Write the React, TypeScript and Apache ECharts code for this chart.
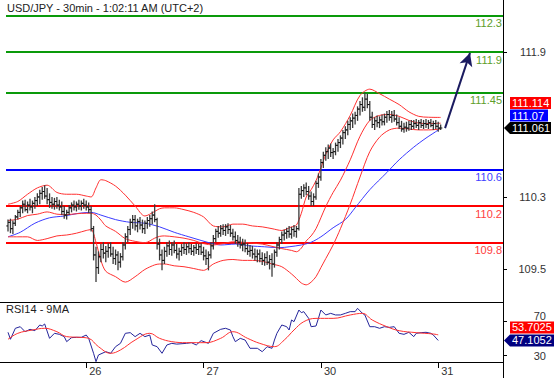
import React, { useEffect, useRef } from "react";
import * as echarts from "echarts";

const chartTitle = "USD/JPY - 30min - 1:02:11 AM (UTC+2)";
const rsiTitle = "RSI14 - 9MA";
const dayLabels = ["26", "27", "30", "31"];
const dayStartIndex = [32, 80, 128, 176];
const priceTicks = [109.5, 110.3, 111.9];
const rsiTicks = [30, 70];
const resistanceLevels = [112.3, 111.9, 111.45];
const pivotLevels = [110.6];
const supportLevels = [110.2, 109.8];

// [open, high, low, close] per 30-min bar
const ohlc: number[][] = [
  [109.98, 110.05, 109.92, 110.02], [110.02, 110.06, 109.9, 109.95], [109.95, 110.04, 109.89, 110.01], [110.01, 110.1, 109.98, 110.08],
  [110.08, 110.16, 110.05, 110.13], [110.13, 110.2, 110.08, 110.18], [110.18, 110.26, 110.12, 110.22], [110.22, 110.27, 110.14, 110.16],
  [110.16, 110.25, 110.12, 110.21], [110.21, 110.28, 110.15, 110.19], [110.19, 110.26, 110.12, 110.23], [110.23, 110.3, 110.17, 110.26],
  [110.26, 110.34, 110.2, 110.3], [110.3, 110.38, 110.22, 110.34], [110.34, 110.41, 110.27, 110.36], [110.36, 110.43, 110.28, 110.31],
  [110.31, 110.4, 110.22, 110.27], [110.27, 110.34, 110.18, 110.24], [110.24, 110.3, 110.17, 110.22], [110.22, 110.29, 110.16, 110.25],
  [110.25, 110.3, 110.17, 110.21], [110.21, 110.27, 110.15, 110.19], [110.19, 110.25, 110.1, 110.14], [110.14, 110.2, 110.06, 110.1],
  [110.1, 110.16, 110.05, 110.13], [110.13, 110.21, 110.1, 110.18], [110.18, 110.24, 110.13, 110.21], [110.21, 110.26, 110.15, 110.19],
  [110.19, 110.25, 110.14, 110.22], [110.22, 110.27, 110.16, 110.2], [110.2, 110.26, 110.15, 110.23], [110.23, 110.28, 110.17, 110.21],
  [110.21, 110.26, 110.15, 110.19], [110.19, 110.24, 110.12, 110.16], [110.16, 110.2, 109.92, 109.95], [109.95, 109.98, 109.6, 109.66],
  [109.66, 109.75, 109.36, 109.52], [109.52, 109.7, 109.45, 109.64], [109.64, 109.78, 109.58, 109.72], [109.72, 109.8, 109.62, 109.68],
  [109.68, 109.76, 109.58, 109.7], [109.7, 109.79, 109.63, 109.74], [109.74, 109.8, 109.64, 109.67], [109.67, 109.75, 109.56, 109.62],
  [109.62, 109.72, 109.55, 109.66], [109.66, 109.7, 109.49, 109.58], [109.58, 109.68, 109.52, 109.64], [109.64, 109.8, 109.6, 109.77],
  [109.77, 109.9, 109.72, 109.86], [109.86, 109.98, 109.8, 109.94], [109.94, 110.06, 109.88, 110.02], [110.02, 110.1, 109.95, 110.05],
  [110.05, 110.1, 109.93, 109.98], [109.98, 110.06, 109.91, 110.03], [110.03, 110.08, 109.94, 109.99], [109.99, 110.05, 109.9, 109.95],
  [109.95, 110.04, 109.89, 110.01], [110.01, 110.08, 109.95, 110.04], [110.04, 110.1, 109.97, 110.06], [110.06, 110.14, 110.0, 110.1],
  [110.1, 110.22, 110.02, 110.05], [110.05, 110.07, 109.72, 109.78], [109.78, 109.84, 109.6, 109.66], [109.66, 109.72, 109.49, 109.6],
  [109.6, 109.75, 109.56, 109.7], [109.7, 109.8, 109.64, 109.76], [109.76, 109.82, 109.66, 109.72], [109.72, 109.8, 109.65, 109.77],
  [109.77, 109.82, 109.68, 109.71], [109.71, 109.78, 109.62, 109.67], [109.67, 109.74, 109.6, 109.7], [109.7, 109.78, 109.65, 109.74],
  [109.74, 109.8, 109.67, 109.72], [109.72, 109.79, 109.66, 109.75], [109.75, 109.8, 109.68, 109.73], [109.73, 109.78, 109.66, 109.7],
  [109.7, 109.77, 109.65, 109.74], [109.74, 109.79, 109.67, 109.72], [109.72, 109.78, 109.66, 109.75], [109.75, 109.79, 109.66, 109.69],
  [109.69, 109.75, 109.6, 109.65], [109.65, 109.72, 109.55, 109.62], [109.62, 109.7, 109.49, 109.66], [109.66, 109.8, 109.62, 109.76],
  [109.76, 109.88, 109.72, 109.84], [109.84, 109.95, 109.8, 109.92], [109.92, 109.98, 109.85, 109.9], [109.9, 109.99, 109.86, 109.95],
  [109.95, 110.0, 109.88, 109.93], [109.93, 110.0, 109.87, 109.97], [109.97, 110.01, 109.89, 109.94], [109.94, 109.99, 109.86, 109.9],
  [109.9, 109.95, 109.82, 109.86], [109.86, 109.92, 109.78, 109.82], [109.82, 109.88, 109.75, 109.8], [109.8, 109.86, 109.73, 109.77],
  [109.77, 109.84, 109.7, 109.78], [109.78, 109.83, 109.69, 109.73], [109.73, 109.79, 109.66, 109.7], [109.7, 109.77, 109.64, 109.71],
  [109.71, 109.76, 109.62, 109.67], [109.67, 109.73, 109.6, 109.64], [109.64, 109.72, 109.58, 109.67], [109.67, 109.72, 109.58, 109.62],
  [109.62, 109.69, 109.55, 109.6], [109.6, 109.68, 109.54, 109.63], [109.63, 109.7, 109.55, 109.58], [109.58, 109.66, 109.5, 109.61],
  [109.61, 109.68, 109.42, 109.56], [109.56, 109.72, 109.52, 109.69], [109.69, 109.8, 109.64, 109.77], [109.77, 109.86, 109.72, 109.83],
  [109.83, 109.92, 109.78, 109.88], [109.88, 109.94, 109.82, 109.9], [109.9, 109.96, 109.84, 109.92], [109.92, 109.98, 109.85, 109.89],
  [109.89, 109.97, 109.84, 109.94], [109.94, 109.99, 109.86, 109.92], [109.92, 109.98, 109.85, 109.95], [109.95, 110.4, 109.93, 110.33],
  [110.33, 110.42, 110.28, 110.37], [110.37, 110.44, 110.3, 110.4], [110.4, 110.46, 110.32, 110.36], [110.36, 110.42, 110.27, 110.31],
  [110.31, 110.36, 110.2, 110.25], [110.25, 110.34, 110.2, 110.3], [110.3, 110.48, 110.27, 110.45], [110.45, 110.56, 110.4, 110.52],
  [110.52, 110.72, 110.48, 110.68], [110.68, 110.8, 110.62, 110.76], [110.76, 110.85, 110.7, 110.8], [110.8, 110.88, 110.72, 110.84],
  [110.84, 110.89, 110.74, 110.79], [110.79, 110.84, 110.72, 110.8], [110.8, 110.9, 110.76, 110.87], [110.87, 110.94, 110.8, 110.9],
  [110.9, 110.98, 110.84, 110.95], [110.95, 111.04, 110.88, 111.01], [111.01, 111.08, 110.94, 111.04], [111.04, 111.14, 110.98, 111.1],
  [111.1, 111.18, 111.04, 111.14], [111.14, 111.22, 111.06, 111.17], [111.17, 111.24, 111.1, 111.2], [111.2, 111.3, 111.14, 111.27],
  [111.27, 111.36, 111.2, 111.32], [111.32, 111.4, 111.24, 111.29], [111.29, 111.45, 111.25, 111.38], [111.38, 111.44, 111.28, 111.32],
  [111.32, 111.36, 111.14, 111.18], [111.18, 111.24, 111.06, 111.1], [111.1, 111.18, 111.04, 111.14], [111.14, 111.2, 111.07, 111.12],
  [111.12, 111.19, 111.06, 111.15], [111.15, 111.21, 111.09, 111.13], [111.13, 111.22, 111.09, 111.18], [111.18, 111.25, 111.12, 111.21],
  [111.21, 111.26, 111.14, 111.18], [111.18, 111.25, 111.12, 111.2], [111.2, 111.26, 111.13, 111.16], [111.16, 111.21, 111.09, 111.12],
  [111.12, 111.18, 111.05, 111.08], [111.08, 111.14, 111.02, 111.05], [111.05, 111.12, 111.01, 111.07], [111.07, 111.13, 111.02, 111.06],
  [111.06, 111.14, 111.03, 111.1], [111.1, 111.15, 111.04, 111.08], [111.08, 111.15, 111.05, 111.11], [111.11, 111.16, 111.06, 111.09],
  [111.09, 111.15, 111.04, 111.12], [111.12, 111.16, 111.06, 111.09], [111.09, 111.15, 111.05, 111.11], [111.11, 111.16, 111.06, 111.1],
  [111.1, 111.15, 111.05, 111.12], [111.12, 111.16, 111.07, 111.09], [111.09, 111.14, 111.04, 111.11], [111.11, 111.15, 111.05, 111.08],
  [111.08, 111.13, 111.02, 111.06], [111.06, 111.1, 111.04, 111.061],
];

// Bollinger bands [barIndex, value]
const bbUpper: number[][] = [
  [0, 110.22], [4, 110.25], [8, 110.33], [12, 110.4], [16, 110.43], [20, 110.35], [24, 110.33], [28, 110.33], [32, 110.31],
  [34, 110.3], [36, 110.4], [38, 110.49], [40, 110.48], [44, 110.42], [48, 110.32], [52, 110.2], [56, 110.09], [60, 110.14],
  [62, 110.17], [64, 110.18], [68, 110.18], [72, 110.16], [76, 110.13], [80, 110.08], [84, 109.98], [88, 109.97], [92, 110.0],
  [96, 110.0], [100, 109.98], [104, 109.97], [108, 109.95], [112, 109.93], [116, 109.97], [118, 109.99], [120, 110.12],
  [122, 110.3], [124, 110.38], [126, 110.48], [128, 110.62], [130, 110.77], [133, 110.93], [136, 111.02], [140, 111.2],
  [144, 111.42], [148, 111.49], [152, 111.44], [156, 111.38], [160, 111.32], [164, 111.24], [168, 111.19], [172, 111.18], [177, 111.178],
];
const bbMiddle: number[][] = [
  [0, 110.04], [4, 110.055], [8, 110.095], [12, 110.11], [16, 110.135], [20, 110.11], [24, 110.105], [28, 110.115], [32, 110.12],
  [34, 110.12], [36, 110.1], [38, 110.045], [40, 109.98], [44, 109.92], [48, 109.84], [52, 109.81], [56, 109.795], [60, 109.845],
  [62, 109.865], [64, 109.87], [68, 109.86], [72, 109.845], [76, 109.82], [80, 109.785], [84, 109.77], [88, 109.785], [92, 109.805],
  [96, 109.8], [100, 109.79], [104, 109.78], [108, 109.755], [112, 109.73], [116, 109.71], [118, 109.695], [120, 109.735],
  [122, 109.815], [124, 109.87], [126, 109.95], [128, 110.07], [130, 110.195], [133, 110.35], [136, 110.485], [140, 110.71],
  [144, 110.97], [148, 111.145], [152, 111.2], [156, 111.21], [160, 111.19], [164, 111.145], [168, 111.115], [172, 111.11], [177, 111.114],
];
const bbLower: number[][] = [
  [0, 109.86], [4, 109.86], [8, 109.86], [12, 109.82], [16, 109.84], [20, 109.87], [24, 109.88], [28, 109.9], [32, 109.93],
  [34, 109.94], [36, 109.8], [38, 109.6], [40, 109.48], [44, 109.42], [48, 109.36], [52, 109.42], [56, 109.5], [60, 109.55],
  [62, 109.56], [64, 109.56], [68, 109.54], [72, 109.53], [76, 109.51], [80, 109.49], [84, 109.56], [88, 109.6], [92, 109.61],
  [96, 109.6], [100, 109.6], [104, 109.59], [108, 109.56], [112, 109.53], [116, 109.45], [118, 109.4], [120, 109.35],
  [122, 109.33], [124, 109.36], [126, 109.42], [128, 109.52], [130, 109.62], [133, 109.77], [136, 109.95], [140, 110.22],
  [144, 110.52], [148, 110.8], [152, 110.96], [156, 111.04], [160, 111.06], [164, 111.05], [168, 111.04], [172, 111.04], [177, 111.05],
];
// long moving average (blue)
const movingAvg: number[][] = [
  [0, 109.86], [5, 109.91], [11, 110.01], [17, 110.07], [23, 110.09], [29, 110.12], [34, 110.13], [38, 110.1], [44, 110.05],
  [50, 110.02], [56, 110.01], [62, 109.97], [68, 109.91], [74, 109.86], [79, 109.82], [83, 109.79], [87, 109.77], [93, 109.78],
  [99, 109.76], [105, 109.75], [111, 109.74], [115, 109.75], [120, 109.77], [124, 109.8], [128, 109.86], [133, 109.96],
  [138, 110.05], [142, 110.18], [148, 110.38], [155, 110.57], [160, 110.71], [166, 110.85], [171, 110.95], [176, 111.04], [177, 111.07],
];
// RSI(14) and its 9-period MA
const rsi: number[][] = [
  [0, 56.7], [1, 48.5], [3, 61.4], [5, 63.3], [7, 57.4], [9, 60.2], [11, 58.6], [13, 65.3], [14, 64.1], [15, 66.5], [17, 49.6],
  [19, 55.5], [21, 54.3], [23, 51.6], [24, 45.7], [26, 50.4], [28, 50.8], [30, 50.8], [32, 53.5], [33, 49.6], [35, 32], [36, 22.2],
  [37, 30], [40, 33.9], [42, 32], [44, 39.8], [46, 43.7], [48, 55.5], [50, 56.3], [52, 51.6], [54, 55.5], [56, 51.6], [58, 53.5],
  [59, 41.8], [61, 39.8], [63, 32], [65, 41.8], [67, 43.7], [69, 42.8], [73, 43.7], [75, 44.5], [77, 41.8], [79, 46.9], [82, 43.7],
  [84, 55.5], [87, 60.2], [89, 61.4], [91, 59.4], [92, 51.6], [93, 45.7], [95, 49.6], [97, 47.6], [99, 37.9], [102, 37.9],
  [104, 33.9], [106, 39.8], [108, 37.9], [109, 47.6], [110, 55.5], [112, 65.3], [114, 63.3], [115, 59.4], [116, 71.2], [117, 69.2],
  [119, 82.9], [120, 79.8], [121, 81], [123, 73.1], [124, 63.3], [126, 64.1], [127, 73.1], [128, 82.9], [130, 77.1], [132, 79],
  [134, 77.1], [136, 77.1], [138, 79], [140, 81], [142, 81], [143, 84.9], [145, 79], [146, 77.1], [148, 63.3], [150, 63.3],
  [152, 61.4], [154, 63.3], [156, 62.5], [158, 63.3], [160, 55.5], [162, 54.3], [164, 56.7], [166, 51.6], [167, 55.5], [169, 56.3],
  [171, 56.7], [173, 55.5], [174, 53.5], [176, 47.1052],
];
const rsiMa: number[][] = [
  [0, 48.5], [4, 55.5], [10, 59.4], [15, 61.4], [20, 57.4], [24, 51.6], [29, 50.8], [33, 49.6], [37, 39.8], [42, 32], [46, 35.9],
  [52, 47.6], [58, 55.5], [62, 49.6], [67, 45.7], [73, 44.5], [81, 44.5], [87, 49.6], [92, 57.4], [98, 49.6], [103, 43.7],
  [109, 39.8], [113, 47.6], [117, 59.4], [121, 69.2], [126, 73.1], [133, 73.1], [140, 77.1], [145, 79], [149, 71.2], [155, 63.3],
  [160, 58.6], [167, 56.3], [174, 54.7], [176, 53.7025],
];
const arrowFrom = [178.8, 111.06];
const arrowTo = [189, 111.89];

const FONT = "Arial, 'Liberation Sans', sans-serif";
const X_MIN = -0.82;
const X_MAX = 202.5;
const AXIS_X = 503;

export default function App() {
  const ref = useRef<HTMLDivElement>(null);
  useEffect(() => {
    document.body.style.margin = "0";
    const chart = echarts.init(ref.current!, null, { renderer: "svg" });
    const levelLine = (v: number, color: string, labelColor: string) => ({
      yAxis: v,
      lineStyle: { color, width: 2, type: "solid" },
      label: {
        show: true,
        position: "insideEndBottom",
        formatter: String(v),
        color: labelColor,
        fontSize: 11,
        fontFamily: FONT,
        distance: [1, 2],
      },
    });
    const lastClose = ohlc[ohlc.length - 1][3];
    const lastMa = movingAvg[movingAvg.length - 1][1];
    const lastMid = bbMiddle[bbMiddle.length - 1][1];
    const lastRsi = rsi[rsi.length - 1][1];
    const lastRsiMa = rsiMa[rsiMa.length - 1][1];

    const option: any = {
      animation: false,
      grid: [
        { left: 6, right: 558 - AXIS_X, top: 0, height: 302 },
        { left: 6, right: 558 - AXIS_X, top: 302, height: 60 },
      ],
      xAxis: [
        { gridIndex: 0, type: "value", min: X_MIN, max: X_MAX, show: false, axisLine: { onZero: false } },
        {
          gridIndex: 1,
          type: "value",
          min: X_MIN,
          max: X_MAX,
          axisLine: { show: false, onZero: false },
          splitLine: { show: false },
          axisTick: { show: true, customValues: dayStartIndex, length: 6, lineStyle: { color: "#000" } },
          axisLabel: {
            customValues: dayStartIndex,
            formatter: (v: number) => dayLabels[dayStartIndex.indexOf(v)] ?? "",
            align: "left",
            margin: 3,
            padding: [0, 0, 0, 3],
            fontSize: 11,
            color: "#333",
            fontFamily: FONT,
          },
        },
      ],
      yAxis: [
        {
          gridIndex: 0,
          type: "value",
          position: "right",
          min: 109.1406,
          max: 112.474,
          axisLine: { show: true, onZero: false, lineStyle: { color: "#000" } },
          splitLine: { show: false },
          axisTick: { show: true, customValues: priceTicks, length: 4, lineStyle: { color: "#000" } },
          axisLabel: {
            customValues: priceTicks,
            formatter: (v: number) => String(v),
            align: "right",
            margin: 43,
            fontSize: 11,
            color: "#333",
            fontFamily: FONT,
          },
        },
        {
          gridIndex: 1,
          type: "value",
          position: "right",
          min: 21.76,
          max: 92.35,
          axisLine: { show: true, onZero: false, lineStyle: { color: "#000" } },
          splitLine: { show: false },
          axisTick: { show: true, customValues: rsiTicks, length: 4, lineStyle: { color: "#000" } },
          axisLabel: {
            customValues: rsiTicks,
            formatter: (v: number) => (v === 70 ? `{up|${v}}` : `{dn|${v}}`),
            align: "right",
            margin: 43,
            fontSize: 11,
            color: "#333",
            fontFamily: FONT,
            rich: {
              up: { fontSize: 11, color: "#333", fontFamily: FONT, padding: [0, 0, 10, 0] },
              dn: { fontSize: 11, color: "#333", fontFamily: FONT, padding: [2, 0, 0, 0] },
            },
          },
        },
      ],
      series: [
        {
          type: "line",
          xAxisIndex: 0,
          yAxisIndex: 0,
          data: movingAvg,
          showSymbol: false,
          smooth: 0.3,
          lineStyle: { color: "#3b3bff", width: 1 },
          z: 3,
          markLine: {
            silent: true,
            symbol: ["none", "none"],
            z: 2,
            data: [
              ...resistanceLevels.map((v) => levelLine(v, "#0a9a0a", "#5e9e2a")),
              ...pivotLevels.map((v) => levelLine(v, "#0000ff", "#4040ff")),
              ...supportLevels.map((v) => levelLine(v, "#ff0000", "#ff4040")),
            ],
          },
        },
        {
          type: "line", xAxisIndex: 0, yAxisIndex: 0, data: bbUpper, showSymbol: false, smooth: 0.3,
          lineStyle: { color: "#ff3030", width: 1 }, z: 3,
        },
        {
          type: "line", xAxisIndex: 0, yAxisIndex: 0, data: bbMiddle, showSymbol: false, smooth: 0.3,
          lineStyle: { color: "#ff3030", width: 1 }, z: 3,
        },
        {
          type: "line", xAxisIndex: 0, yAxisIndex: 0, data: bbLower, showSymbol: false, smooth: 0.3,
          lineStyle: { color: "#ff3030", width: 1 }, z: 3,
          markLine: {
            silent: true,
            symbol: ["none", "arrow"],
            symbolSize: [10, 13],
            label: { show: false },
            lineStyle: { color: "#1b1b60", width: 2, type: "solid" },
            data: [[{ coord: arrowFrom }, { coord: arrowTo }]],
          },
        },
        {
          type: "custom",
          xAxisIndex: 0,
          yAxisIndex: 0,
          z: 4,
          data: ohlc.map((d, i) => [i, d[0], d[1], d[2], d[3]]),
          encode: { x: 0, y: [1, 2, 3, 4] },
          renderItem: (_p: any, api: any) => {
            const i = api.value(0);
            const o = api.coord([i, api.value(1)]);
            const h = api.coord([i, api.value(2)]);
            const l = api.coord([i, api.value(3)]);
            const c = api.coord([i, api.value(4)]);
            const x = o[0];
            const body = { stroke: "#3a3a3a", lineWidth: 1.3 };
            const tick = { stroke: "#111", lineWidth: 1 };
            return {
              type: "group",
              children: [
                { type: "line", shape: { x1: x, y1: h[1], x2: x, y2: l[1] }, style: body },
                { type: "line", shape: { x1: x - 1.7, y1: o[1], x2: x, y2: o[1] }, style: tick },
                { type: "line", shape: { x1: x, y1: c[1], x2: x + 1.7, y2: c[1] }, style: tick },
              ],
            };
          },
        },
        {
          type: "line", xAxisIndex: 1, yAxisIndex: 1, data: rsi, showSymbol: false,
          lineStyle: { color: "#24249a", width: 1 }, z: 3,
        },
        {
          type: "line", xAxisIndex: 1, yAxisIndex: 1, data: rsiMa, showSymbol: false, smooth: 0.4,
          lineStyle: { color: "#ff3030", width: 1 }, z: 3,
        },
      ],
    };
    chart.setOption(option);

    const yClose = chart.convertToPixel({ yAxisIndex: 0 }, lastClose) as number;
    const yRsi = chart.convertToPixel({ yAxisIndex: 1 }, lastRsi) as number;
    const box = (y: number, w: number, fill: string, text: string, arrow: boolean) => {
      const children: any[] = [
        { type: "rect", shape: { x: 510, y: y - 6, width: w, height: 12 }, style: { fill } },
        {
          type: "text",
          style: { x: 512, y, text, fill: "#fff", font: `11px ${FONT}`, verticalAlign: "middle", align: "left" },
        },
      ];
      if (arrow) {
        children.push({
          type: "polygon",
          shape: { points: [[AXIS_X + 1, y], [510, y - 6], [510, y + 6]] },
          style: { fill },
        });
      }
      return { type: "group", z: 100, children };
    };
    chart.setOption({
      graphic: [
        { type: "line", z: 50, shape: { x1: AXIS_X + 0.5, y1: 0, x2: AXIS_X + 0.5, y2: 378 }, style: { stroke: "#000", lineWidth: 1 } },
        { type: "line", z: 50, shape: { x1: 0, y1: 302.5, x2: AXIS_X, y2: 302.5 }, style: { stroke: "#000", lineWidth: 1 } },
        { type: "line", z: 50, shape: { x1: 0, y1: 362.5, x2: AXIS_X, y2: 362.5 }, style: { stroke: "#000", lineWidth: 1 } },
        { type: "text", z: 50, style: { x: 7, y: 8, text: chartTitle, fill: "#222", font: `11px ${FONT}`, verticalAlign: "middle" } },
        { type: "text", z: 50, style: { x: 6, y: 309, text: rsiTitle, fill: "#222", font: `11px ${FONT}`, verticalAlign: "middle" } },
        box(yClose - 25, 41, "#ff0000", lastMid.toFixed(3), false),
        box(yClose - 12.5, 38, "#0000ff", lastMa.toFixed(2), false),
        box(yClose, 41, "#000000", lastClose.toFixed(3), true),
        box(yRsi - 13, 44, "#ff0000", lastRsiMa.toFixed(4), false),
        box(yRsi, 44, "#000080", lastRsi.toFixed(4), true),
      ],
    });
    return () => chart.dispose();
  }, []);
  return <div ref={ref} style={{ width: 558, height: 378 }} />;
}
